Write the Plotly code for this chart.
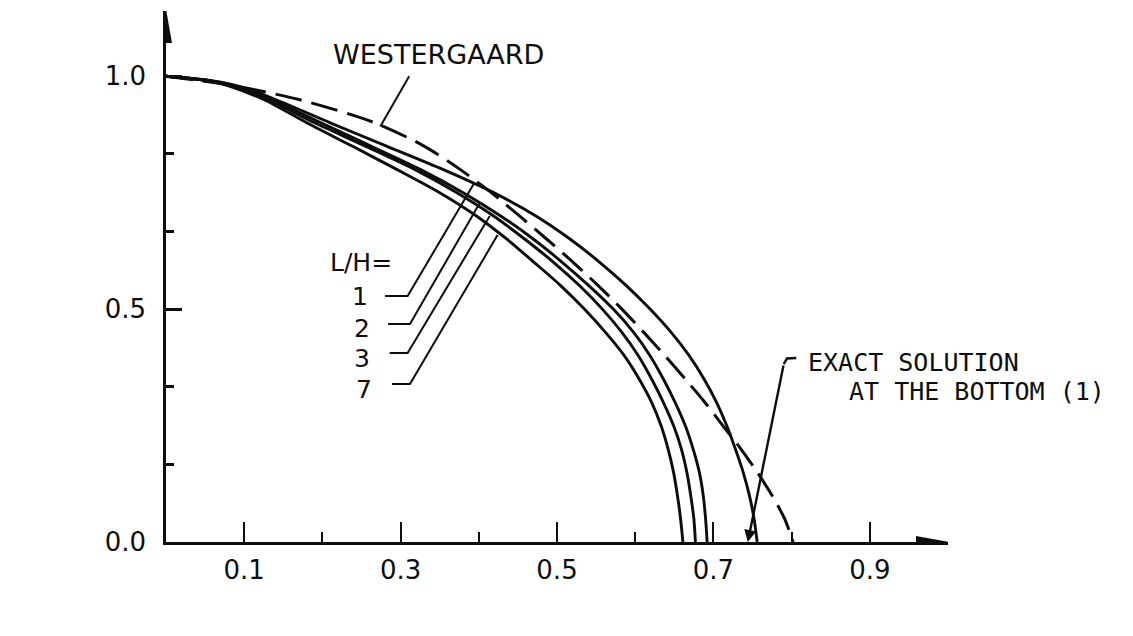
import plotly.graph_objects as go

# ---------------- data ----------------
Z_LEVELS = [1.00, 0.99, 0.98, 0.95, 0.90, 0.85, 0.80, 0.75, 0.70, 0.65, 0.60,
            0.55, 0.50, 0.45, 0.40, 0.35, 0.30, 0.25, 0.20, 0.15, 0.10, 0.05, 0.00]

P_WESTERGAARD = [0.000, 0.045, 0.085, 0.170, 0.267, 0.330, 0.376, 0.416, 0.452, 0.487, 0.521,
                 0.553, 0.583, 0.611, 0.638, 0.664, 0.689, 0.712, 0.735, 0.756, 0.775, 0.791, 0.802]
P_LH1 = [0.000, 0.060, 0.090, 0.140, 0.210, 0.282, 0.354, 0.419, 0.473, 0.517, 0.555,
         0.589, 0.619, 0.646, 0.669, 0.688, 0.704, 0.717, 0.728, 0.738, 0.746, 0.752, 0.756]
P_LH2 = [0.000, 0.058, 0.085, 0.135, 0.198, 0.262, 0.325, 0.380, 0.428, 0.470, 0.507,
         0.541, 0.572, 0.598, 0.619, 0.636, 0.651, 0.664, 0.674, 0.682, 0.687, 0.690, 0.692]
P_LH3 = [0.000, 0.057, 0.082, 0.130, 0.190, 0.255, 0.318, 0.372, 0.419, 0.459, 0.496,
         0.529, 0.558, 0.583, 0.604, 0.621, 0.636, 0.649, 0.659, 0.666, 0.671, 0.675, 0.677]
P_LH7 = [0.000, 0.056, 0.079, 0.125, 0.180, 0.238, 0.295, 0.350, 0.397, 0.436, 0.471,
         0.505, 0.535, 0.562, 0.586, 0.605, 0.621, 0.633, 0.642, 0.649, 0.654, 0.658, 0.661]

LH_LABELS = ["1", "2", "3", "7"]
LH_CURVES = [P_LH1, P_LH2, P_LH3, P_LH7]

X_MAJOR_TICKS = [0.1, 0.3, 0.5, 0.7, 0.9]
X_MAJOR_TEXT = ["0.1", "0.3", "0.5", "0.7", "0.9"]
X_MINOR_TICKS = [0.2, 0.4, 0.6, 0.8]
Y_MAJOR_TICKS = [0.0, 0.5, 1.0]
Y_MAJOR_TEXT = ["0.0", "0.5", "1.0"]
Y_MINOR_TICKS = [0.1667, 0.3333, 0.6667, 0.8333]

# annotation placement (data coordinates)
LH_TITLE_POS = (0.249, 0.599)
LH_LABEL_POS = [(0.248, 0.526), (0.251, 0.459), (0.251, 0.395), (0.253, 0.328)]
LH_LEADERS = [  # start of tick, end of tick, tip on curve
    [(0.280, 0.528), (0.309, 0.528), (0.394, 0.770)],
    [(0.284, 0.468), (0.312, 0.468), (0.401, 0.727)],
    [(0.286, 0.406), (0.309, 0.406), (0.414, 0.700)],
    [(0.289, 0.339), (0.312, 0.339), (0.424, 0.659)],
]
WEST_LABEL_POS = (0.349, 1.047)
WEST_LEADER = [(0.311, 1.000), (0.274, 0.892)]
EXACT_TIP = (0.744, 0.0)
EXACT_LEADER = [(0.790, 0.382), (0.794, 0.394), (0.806, 0.395)]
EXACT_TEXT_POS = [(0.818, 0.386), (0.871, 0.324)]
ZH_POS = (-0.155, 0.951)
PRESSURE_POS = (0.495, -0.161)

INK = "#0d0d0d"
FONT = "DejaVu Sans"

fig = go.Figure()

fig.add_trace(go.Scatter(x=P_WESTERGAARD, y=Z_LEVELS, mode="lines",
                         line=dict(color=INK, width=3, dash="27px,10px", shape="spline", smoothing=0.8),
                         hoverinfo="skip", name="WESTERGAARD"))
for lab, p in zip(LH_LABELS, LH_CURVES):
    fig.add_trace(go.Scatter(x=p, y=Z_LEVELS, mode="lines",
                             line=dict(color=INK, width=2.9, shape="spline", smoothing=0.8),
                             hoverinfo="skip", name="L/H=" + lab))

shapes = []
# axis arrowheads (pixel-sized, anchored at the axis ends)
shapes.append(dict(type="path", xref="x", yref="y", xsizemode="pixel", ysizemode="pixel",
                   xanchor=1.0, yanchor=0.0, path="M 2,0 L -32,6 L -32,-6 Z",
                   fillcolor=INK, line=dict(width=0)))
shapes.append(dict(type="path", xref="x", yref="y", xsizemode="pixel", ysizemode="pixel",
                   xanchor=0.0, yanchor=1.14, path="M 0,2 L -6,-32 L 6,-32 Z",
                   fillcolor=INK, line=dict(width=0)))
# leaders
for pts in LH_LEADERS:
    path = "M " + " L ".join(f"{x},{y}" for x, y in pts)
    shapes.append(dict(type="path", xref="x", yref="y", path=path,
                       line=dict(color=INK, width=2)))
shapes.append(dict(type="path", xref="x", yref="y",
                   path="M " + " L ".join(f"{x},{y}" for x, y in WEST_LEADER),
                   line=dict(color=INK, width=2)))
shapes.append(dict(type="path", xref="x", yref="y",
                   path="M " + " L ".join(f"{x},{y}" for x, y in EXACT_LEADER),
                   line=dict(color=INK, width=2.4)))

annotations = []
annotations.append(dict(x=EXACT_TIP[0], y=EXACT_TIP[1], ax=EXACT_LEADER[0][0], ay=EXACT_LEADER[0][1],
                        xref="x", yref="y", axref="x", ayref="y", text="", showarrow=True,
                        arrowhead=2, arrowsize=1.0, arrowwidth=2.4, arrowcolor=INK))
annotations.append(dict(x=WEST_LABEL_POS[0], y=WEST_LABEL_POS[1], xref="x", yref="y",
                        text="WESTERGAARD", showarrow=False,
                        font=dict(family=FONT, size=27, color=INK)))
annotations.append(dict(x=LH_TITLE_POS[0], y=LH_TITLE_POS[1], xref="x", yref="y", text="L/H=",
                        showarrow=False, font=dict(family=FONT, size=25, color=INK)))
for lab, (x, y) in zip(LH_LABELS, LH_LABEL_POS):
    annotations.append(dict(x=x, y=y, xref="x", yref="y", text=lab, showarrow=False,
                            font=dict(family=FONT, size=25, color=INK)))
for txt, (x, y) in zip(["EXACT SOLUTION", "AT THE BOTTOM (1)"], EXACT_TEXT_POS):
    annotations.append(dict(x=x, y=y, xref="x", yref="y", text=txt,
                            showarrow=False, xanchor="left",
                            font=dict(family="DejaVu Sans Mono", size=25, color=INK)))
annotations.append(dict(x=ZH_POS[0], y=ZH_POS[1], xref="x", yref="y", text="z/H", showarrow=False,
                        font=dict(family=FONT, size=32, color=INK)))
annotations.append(dict(x=PRESSURE_POS[0], y=PRESSURE_POS[1], xref="x", yref="y", text="PRESSURE",
                        showarrow=False, font=dict(family=FONT, size=34, color=INK)))

fig.update_layout(
    width=1133, height=636,
    margin=dict(l=166, r=185, t=11, b=94),
    paper_bgcolor="white", plot_bgcolor="white",
    showlegend=False,
    shapes=shapes, annotations=annotations,
    xaxis=dict(range=[0, 1.0], showgrid=False, zeroline=False,
               showline=True, linewidth=2.6, linecolor=INK,
               ticks="inside", tickvals=X_MAJOR_TICKS, ticktext=X_MAJOR_TEXT,
               ticklen=20, tickwidth=2, tickcolor=INK,
               minor=dict(tickvals=X_MINOR_TICKS, ticks="inside", ticklen=10, tickwidth=2, tickcolor=INK),
               tickfont=dict(family=FONT, size=26, color=INK), ticklabelstandoff=3),
    yaxis=dict(range=[0, 1.14], showgrid=False, zeroline=False,
               showline=True, linewidth=2.6, linecolor=INK,
               ticks="inside", tickvals=Y_MAJOR_TICKS, ticktext=Y_MAJOR_TEXT,
               ticklen=16, tickwidth=2.5, tickcolor=INK,
               minor=dict(tickvals=Y_MINOR_TICKS, ticks="inside", ticklen=8, tickwidth=2.5, tickcolor=INK),
               tickfont=dict(family=FONT, size=26, color=INK), ticklabelstandoff=12),
)

fig.write_html("out.html")
